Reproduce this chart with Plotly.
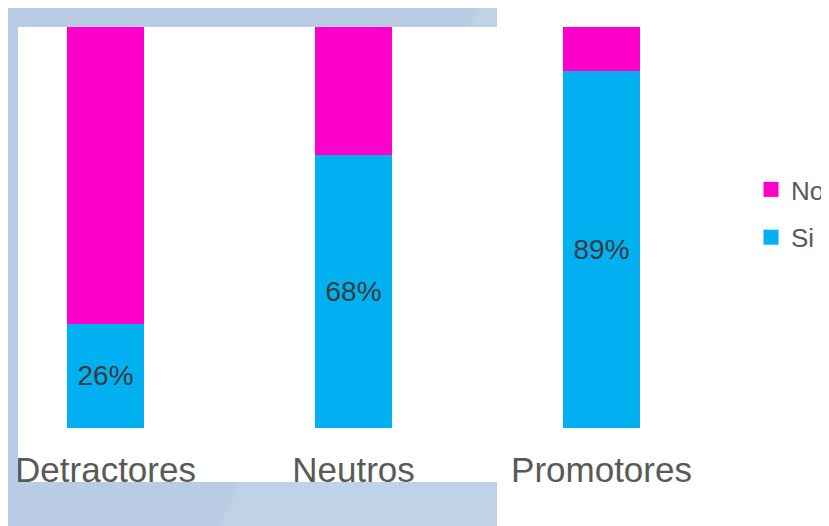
import plotly.graph_objects as go

categories = ["Detractores", "Neutros", "Promotores"]
si_values = [26, 68, 89]
no_values = [74, 32, 11]
series_names = ["Si", "No"]
series_colors = ["#00B0F0", "#FF00CC"]

OFF = 8  # page body margin offset
W, H = 829 - OFF, 526 - OFF
L, R, T, B = 18 - OFF, 700 - OFF, 27 - OFF, 428 - OFF
pw, ph = R - L, B - T

def px(x):
    return (x - OFF - L) / pw

def py(y):
    return (B - (y - OFF)) / ph

fig = go.Figure()
fig.add_trace(go.Bar(
    x=categories, y=si_values, name=series_names[0], showlegend=False,
    marker=dict(color=series_colors[0], line=dict(width=0)),
    width=0.31,
    texttemplate="%{y}%", textposition="inside", insidetextanchor="middle",
    textangle=0, constraintext="none",
    textfont=dict(family="Liberation Sans, Arial", size=28, color="#3a3a3a"),
))
fig.add_trace(go.Bar(
    x=categories, y=no_values, name=series_names[1], showlegend=False,
    marker=dict(color=series_colors[1], line=dict(width=0)),
    width=0.31, hoverinfo="skip",
))
# legend entries with larger square swatches
for name, color, rank in [(series_names[1], series_colors[1], 1), (series_names[0], series_colors[0], 2)]:
    fig.add_trace(go.Scatter(
        x=[None], y=[None], mode="markers", name=name, legendgroup=name, legendrank=rank,
        marker=dict(symbol="square", size=15, color=color, line=dict(width=0)),
    ))

band = "#BACCE3"
band2 = "#C0D2E8"
shapes = [
    dict(type="rect", xref="paper", yref="paper", x0=px(8), x1=px(497), y0=py(27), y1=py(7),
         fillcolor=band, line=dict(width=0), layer="above"),
    dict(type="path", xref="paper", yref="paper",
         path=f"M {px(478)} {py(7)} L {px(497)} {py(7)} L {px(497)} {py(27)} L {px(470)} {py(27)} Z",
         fillcolor=band2, line=dict(width=0), layer="above"),
    dict(type="rect", xref="paper", yref="paper", x0=px(8), x1=px(18), y0=py(482), y1=py(27),
         fillcolor=band, line=dict(width=0), layer="above"),
    dict(type="rect", xref="paper", yref="paper", x0=px(8), x1=px(497), y0=py(530), y1=py(482),
         fillcolor=band, line=dict(width=0), layer="above"),
    dict(type="path", xref="paper", yref="paper",
         path=f"M {px(240)} {py(482)} L {px(497)} {py(482)} L {px(497)} {py(530)} L {px(218)} {py(530)} Z",
         fillcolor=band2, line=dict(width=0), layer="above"),
]

r0 = -(105.5 - 18) / 248
r1 = (700 - 105.5) / 248

fig.update_layout(
    width=W, height=H,
    margin=dict(l=L, r=W - R, t=T, b=H - B, pad=0, autoexpand=False),
    barmode="stack",
    paper_bgcolor="white", plot_bgcolor="white",
    font=dict(family="Liberation Sans, Arial", color="#595959"),
    xaxis=dict(range=[r0, r1], showgrid=False, zeroline=False, showline=False,
               ticks="", ticklabelstandoff=18, automargin=False,
               tickfont=dict(size=35, color="#595959")),
    yaxis=dict(range=[0, 100], visible=False),
    showlegend=True,
    legend=dict(xref="container", yref="container",
                x=(751 - OFF) / W, y=1 - (213.5 - OFF) / H,
                xanchor="left", yanchor="middle",
                traceorder="grouped", tracegroupgap=11, itemsizing="trace",
                font=dict(size=26, color="#595959"), bgcolor="rgba(0,0,0,0)"),
    shapes=shapes,
)

fig.write_html("out.html")
